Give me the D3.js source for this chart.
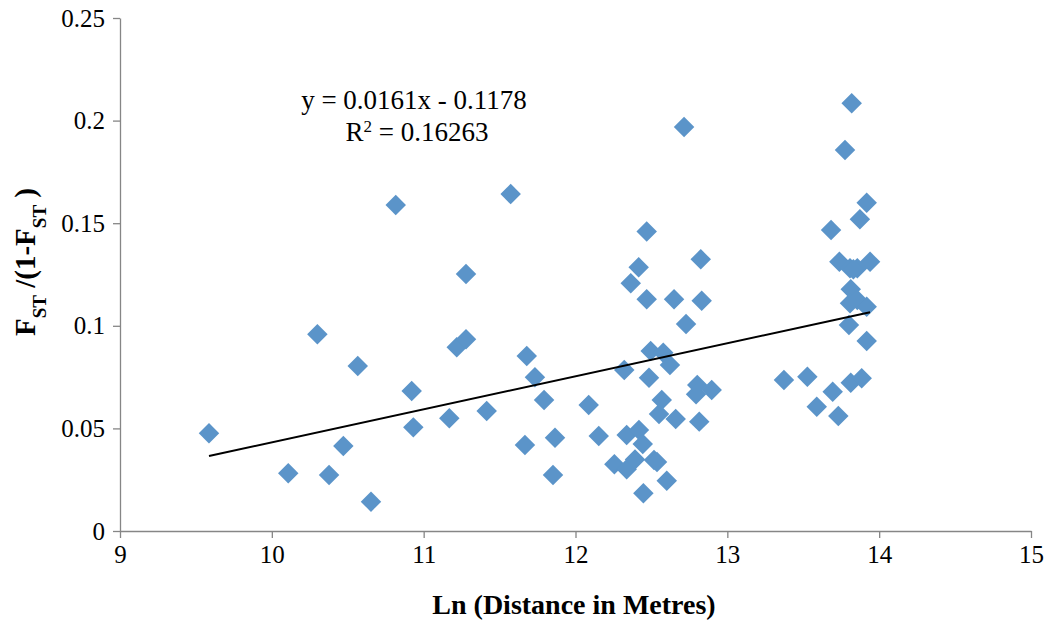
<!DOCTYPE html>
<html><head><meta charset="utf-8">
<script src="https://cdn.jsdelivr.net/npm/d3@7"></script>
<style>body{margin:0;background:#fff}svg{display:block}</style>
</head><body>
<script>
const xValues = [9.586,10.108,10.300,10.377,10.471,10.566,10.653,10.816,10.921,10.932,
11.169,11.218,11.279,11.279,11.415,11.573,11.667,11.679,11.733,11.793,
11.865,11.852,12.087,12.153,12.256,12.321,12.337,12.337,12.364,12.392,
12.416,12.418,12.443,12.447,12.469,12.469,12.484,12.495,12.517,12.537,
12.550,12.568,12.578,12.622,12.601,12.649,12.660,12.715,12.728,12.802,
12.794,12.825,12.831,12.815,12.897,13.373,13.527,13.589,13.683,13.694,
13.731,13.738,13.775,13.819,13.808,13.856,13.940,13.813,13.808,13.856,
13.918,13.801,13.918,13.813,13.885,13.873,13.918,13.830];
const yValues = [0.0476,0.0281,0.0959,0.0273,0.0414,0.0804,0.0143,0.1589,0.0682,0.0505,
0.0549,0.0895,0.0934,0.1252,0.0585,0.1642,0.0419,0.0853,0.0749,0.0638,
0.0455,0.0273,0.0614,0.0463,0.0325,0.0785,0.0468,0.0301,0.1207,0.0349,
0.1285,0.0492,0.0424,0.0184,0.1459,0.1129,0.0747,0.0877,0.0346,0.0336,
0.0570,0.0638,0.0869,0.0809,0.0245,0.1129,0.0546,0.1969,0.1009,0.0712,
0.0666,0.1324,0.1122,0.0533,0.0687,0.0736,0.0752,0.0606,0.1467,0.0679,
0.0560,0.1312,0.1857,0.2084,0.1280,0.1280,0.1312,0.1178,0.1110,0.1126,
0.1093,0.1004,0.0926,0.0723,0.0744,0.1519,0.1600,0.1275];
const xTicks = [9,10,11,12,13,14,15];
const yTicks = [0,0.05,0.1,0.15,0.2,0.25];
const yTickLabels = ["0","0.05","0.1","0.15","0.2","0.25"];
const slope = 0.0161, intercept = -0.1178;
const eqText = "y = 0.0161x - 0.1178";
const r2Value = "0.16263";
const xTitle = "Ln (Distance in Metres)";

const W = 1051, H = 626;
const svg = d3.select("body").append("svg").attr("width", W).attr("height", H);
const x = d3.scaleLinear().domain([9,15]).range([120,1031]);
const y = d3.scaleLinear().domain([0,0.25]).range([531,18]);
const axisColor = "#868686";
const serif = "'Liberation Serif','DejaVu Serif',serif";

// axes
const gx = svg.append("g").attr("transform","translate(0,531)")
  .call(d3.axisBottom(x).tickValues(xTicks).tickSize(7).tickSizeOuter(0).tickFormat(d3.format("d")));
const gy = svg.append("g").attr("transform","translate(120,0)")
  .call(d3.axisLeft(y).tickValues(yTicks).tickSize(7).tickSizeOuter(0).tickFormat((d,i)=>yTickLabels[i]));
[gx,gy].forEach(g=>{
  g.select(".domain").attr("stroke",axisColor).attr("stroke-width",1.3);
  g.selectAll(".tick line").attr("stroke",axisColor).attr("stroke-width",1.3);
  g.selectAll(".tick text").attr("fill","#000").style("font-family",serif).style("font-size","25px");
});
gx.selectAll(".tick text").attr("y",14);
gy.selectAll(".tick text").attr("x",-15);

// points
const pts = xValues.map((v,i)=>({x:v,y:yValues[i]}));
svg.append("g").selectAll("path").data(pts).join("path")
  .attr("d", d3.symbol().type(d3.symbolSquare).size(210))
  .attr("transform", d=>`translate(${x(d.x)},${y(d.y)}) rotate(45)`)
  .attr("fill","#5b94c9");

// trendline
const xmin = d3.min(xValues), xmax = d3.max(xValues);
svg.append("line")
  .attr("x1",x(xmin)).attr("y1",y(slope*xmin+intercept))
  .attr("x2",x(xmax)).attr("y2",y(slope*xmax+intercept))
  .attr("stroke","#000").attr("stroke-width",2);

// equation
svg.append("text").attr("x",414).attr("y",109).attr("text-anchor","middle")
  .style("font-family",serif).style("font-size","27px").text(eqText);
const r2 = svg.append("text").attr("x",417).attr("y",141).attr("text-anchor","middle")
  .style("font-family",serif).style("font-size","27px");
r2.append("tspan").text("R");
r2.append("tspan").attr("baseline-shift","super").style("font-size","17px").text("2");
r2.append("tspan").text(" = " + r2Value);

// axis titles
svg.append("text").attr("x",574).attr("y",614).attr("text-anchor","middle")
  .style("font-family",serif).style("font-size","28px").style("font-weight","bold")
  .text(xTitle);
const yt = svg.append("text").attr("transform","translate(35,262) rotate(-90)")
  .attr("text-anchor","middle")
  .style("font-family",serif).style("font-size","29px").style("font-weight","bold");
yt.append("tspan").text("F");
yt.append("tspan").attr("baseline-shift","sub").style("font-size","19px").text("ST");
yt.append("tspan").text(" /(1-F");
yt.append("tspan").attr("baseline-shift","sub").style("font-size","19px").text("ST");
yt.append("tspan").text(" )");
</script>
</body></html>
